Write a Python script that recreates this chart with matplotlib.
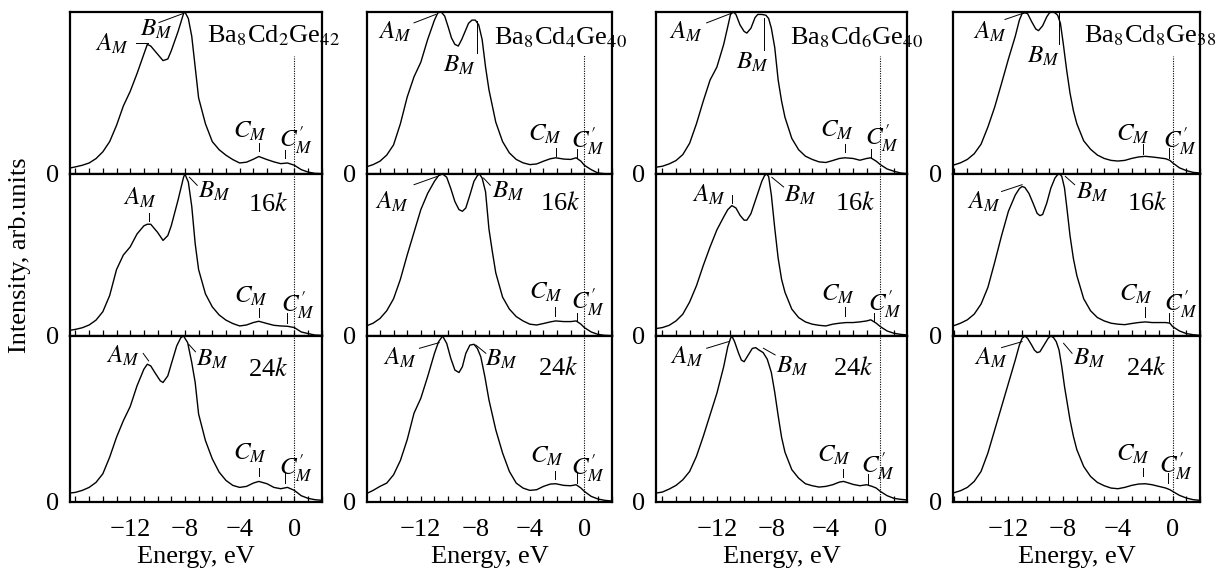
import matplotlib
matplotlib.use('Agg')
import matplotlib.pyplot as plt
from matplotlib.ticker import FixedLocator, MultipleLocator

plt.rcParams['font.family'] = ['Liberation Serif', 'DejaVu Serif']
plt.rcParams['mathtext.fontset'] = 'stix'

# ---------------- data (energy in eV, intensity normalised) ----------------
titles = [r'Ba$_8$Cd$_2$Ge$_{42}$', r'Ba$_8$Cd$_4$Ge$_{40}$',
          r'Ba$_8$Cd$_6$Ge$_{40}$', r'Ba$_8$Cd$_8$Ge$_{38}$']
kmesh = ['', r'16$k$', r'24$k$']
xticks_major = [-12, -8, -4, 0]

E_c1r1 = [-16.4, -16, -15.5, -15, -14.5, -14, -13.5, -13, -12.5, -12, -11.5, -11, -10.75, -10.5, -10, -9.6, -9.25, -9, -8.5, -8.1,
          -8, -7.75, -7.5, -7.25, -7, -6.5, -6, -5.5, -5, -4.5, -4, -3.5, -3, -2.6, -2, -1.5, -1, -0.5, 0, 0.5, 1, 1.5, 2]
I_c1r1 = [0.037, 0.044, 0.054, 0.068, 0.095, 0.137, 0.20, 0.30, 0.42, 0.51, 0.62, 0.74, 0.80, 0.79, 0.74, 0.70, 0.71, 0.76, 0.88, 0.99,
          1.0, 0.96, 0.85, 0.66, 0.47, 0.31, 0.20, 0.15, 0.116, 0.089, 0.068, 0.073, 0.091, 0.108, 0.089, 0.075, 0.064, 0.068, 0.054, 0.027,
          0.012, 0.004, 0.002]
E_c1r2 = E_c1r1
I_c1r2 = [0.035, 0.041, 0.051, 0.068, 0.098, 0.15, 0.25, 0.41, 0.50, 0.55, 0.63, 0.68, 0.69, 0.69, 0.64, 0.59, 0.62, 0.68, 0.84, 0.98,
          1.0, 0.95, 0.80, 0.57, 0.41, 0.26, 0.18, 0.13, 0.098, 0.077, 0.062, 0.068, 0.083, 0.091, 0.077, 0.066, 0.062, 0.060, 0.052, 0.025,
          0.015, 0.006, 0.004]
E_c1r3 = [-16.4, -16, -15.5, -15, -14.5, -14, -13.5, -13, -12.5, -12, -11.5, -11, -10.75, -10.5, -10.2, -9.8, -9.6, -9.25, -9, -8.6,
          -8.3, -8.1, -7.8, -7.5, -7.25, -7, -6.5, -6, -5.5, -5, -4.5, -4, -3.5, -3, -2.6, -2, -1.5, -1, -0.5, 0, 0.5, 1, 1.5, 2]
I_c1r3 = [0.054, 0.058, 0.07, 0.088, 0.118, 0.17, 0.27, 0.39, 0.49, 0.575, 0.70, 0.80, 0.83, 0.82, 0.78, 0.73, 0.72, 0.76, 0.83, 0.94,
          0.99, 1.0, 0.96, 0.84, 0.72, 0.53, 0.37, 0.26, 0.18, 0.13, 0.10, 0.088, 0.094, 0.114, 0.124, 0.11, 0.088, 0.080, 0.088, 0.07,
          0.038, 0.022, 0.014, 0.01]

E_c2r1 = [-16, -15.5, -15, -14.5, -14, -13.5, -13, -12.5, -12, -11.5, -11, -10.75, -10.5, -10.25, -10, -9.75, -9.5, -9.25, -9, -8.75,
          -8.5, -8.25, -8, -7.75, -7.5, -7.25, -7, -6.5, -6, -5.5, -5, -4.5, -4, -3.5, -3, -2.5, -2.1, -1.5, -1, -0.6, -0.25, 0, 0.5, 1, 1.5, 2]
I_c2r1 = [0.044, 0.058, 0.079, 0.117, 0.18, 0.31, 0.475, 0.60, 0.69, 0.83, 0.95, 0.995, 1.0, 0.975, 0.91, 0.84, 0.80, 0.79, 0.83, 0.88,
          0.93, 0.95, 0.95, 0.92, 0.83, 0.66, 0.52, 0.32, 0.20, 0.13, 0.09, 0.069, 0.058, 0.062, 0.079, 0.094, 0.10, 0.092, 0.09, 0.10,
          0.079, 0.054, 0.027, 0.006, 0.002, 0.0]
E_c2r2 = [-16, -15.5, -15, -14.5, -14, -13.5, -13, -12.5, -12, -11.5, -11, -10.7, -10.4, -10.1, -9.8, -9.5, -9.2, -8.95, -8.7, -8.4,
          -8.1, -7.85, -7.7, -7.5, -7.25, -7, -6.75, -6.5, -6, -5.5, -5, -4.5, -4, -3.5, -3, -2.5, -2.1, -1.5, -1, -0.6, -0.25, 0, 0.5, 1, 1.5, 2]
I_c2r2 = [0.062, 0.079, 0.108, 0.156, 0.23, 0.35, 0.50, 0.64, 0.78, 0.88, 0.955, 0.99, 1.0, 0.98, 0.91, 0.83, 0.78, 0.77, 0.79, 0.87,
          0.955, 0.99, 1.0, 0.975, 0.89, 0.66, 0.52, 0.39, 0.24, 0.166, 0.12, 0.093, 0.073, 0.068, 0.077, 0.087, 0.093, 0.089, 0.089, 0.093,
          0.073, 0.052, 0.025, 0.01, 0.004, 0.002]
E_c2r3 = [-16, -15.5, -15, -14.5, -14, -13.5, -13, -12.5, -12, -11.5, -11, -10.7, -10.4, -10.1, -9.8, -9.5, -9.2, -8.95, -8.7, -8.4,
          -8.1, -7.85, -7.6, -7.3, -7, -6.5, -6, -5.5, -5, -4.5, -4, -3.5, -3, -2.5, -2.1, -1.5, -1, -0.6, -0.25, 0, 0.5, 1, 1.5, 2]
I_c2r3 = [0.05, 0.07, 0.094, 0.114, 0.164, 0.25, 0.375, 0.535, 0.625, 0.755, 0.895, 0.965, 1.0, 0.955, 0.865, 0.795, 0.78, 0.815, 0.895, 0.945,
          0.95, 0.925, 0.875, 0.755, 0.615, 0.435, 0.295, 0.184, 0.114, 0.084, 0.07, 0.074, 0.094, 0.108, 0.11, 0.10, 0.098, 0.104, 0.084, 0.064,
          0.034, 0.018, 0.01, 0.006]

E_c3r1 = [-16.45, -16, -15.5, -15, -14.5, -14, -13.5, -13, -12.5, -12, -11.5, -11.2, -11, -10.8, -10.6, -10.3, -10, -9.8, -9.5, -9.2,
          -9, -8.7, -8.4, -8.2, -8, -7.75, -7.5, -7.25, -7, -6.5, -6, -5.5, -5, -4.5, -4, -3.5, -3, -2.6, -2, -1.5,
          -1, -0.7, -0.3, 0, 0.5, 1, 1.5, 2]
I_c3r1 = [0.042, 0.048, 0.0625, 0.083, 0.12, 0.19, 0.31, 0.45, 0.58, 0.66, 0.80, 0.91, 0.985, 1.0, 0.985, 0.92, 0.88, 0.87, 0.90, 0.965,
          0.985, 0.985, 0.98, 0.96, 0.90, 0.78, 0.58, 0.45, 0.35, 0.22, 0.15, 0.11, 0.09, 0.075, 0.071, 0.083, 0.096, 0.10, 0.096, 0.085,
          0.096, 0.10, 0.079, 0.058, 0.031, 0.017, 0.006, 0.002]
E_c3r2 = [-16.45, -16, -15.5, -15, -14.5, -14, -13.5, -13, -12.5, -12, -11.5, -11.2, -10.9, -10.6, -10.3, -10, -9.8, -9.5, -9.2, -9,
          -8.7, -8.5, -8.35, -8.2, -8, -7.75, -7.5, -7.25, -7, -6.5, -6, -5.5, -5, -4.5, -4, -3.5, -3, -2.5, -2, -1.5,
          -1, -0.7, -0.3, 0, 0.5, 1, 1.5, 2]
I_c3r2 = [0.046, 0.052, 0.066, 0.093, 0.135, 0.21, 0.31, 0.435, 0.55, 0.655, 0.735, 0.78, 0.805, 0.79, 0.745, 0.715, 0.715, 0.755, 0.83, 0.88,
          0.955, 0.99, 1.0, 0.985, 0.87, 0.665, 0.48, 0.35, 0.27, 0.166, 0.114, 0.087, 0.073, 0.066, 0.062, 0.073, 0.079, 0.083, 0.083, 0.087,
          0.093, 0.10, 0.079, 0.058, 0.031, 0.017, 0.01, 0.006]
E_c3r3 = [-16.45, -16, -15.5, -15, -14.5, -14, -13.5, -13, -12.5, -12, -11.5, -11.2, -11, -10.9, -10.7, -10.4, -10.2, -10, -9.7, -9.4,
          -9.15, -8.9, -8.6, -8.3, -8, -7.75, -7.5, -7.25, -7, -6.5, -6, -5.5, -5, -4.5, -4, -3.5, -3, -2.7, -2.3, -2,
          -1.5, -1, -0.6, -0.3, 0, 0.5, 1, 1.5, 2]
I_c3r3 = [0.054, 0.06, 0.078, 0.10, 0.134, 0.184, 0.275, 0.395, 0.525, 0.655, 0.815, 0.935, 0.985, 1.0, 0.966, 0.895, 0.855, 0.845, 0.885, 0.925,
          0.93, 0.915, 0.90, 0.86, 0.78, 0.66, 0.52, 0.39, 0.30, 0.195, 0.144, 0.11, 0.098, 0.09, 0.094, 0.104, 0.12, 0.124, 0.114, 0.106,
          0.098, 0.104, 0.094, 0.084, 0.064, 0.038, 0.022, 0.016, 0.012]

E_c4r1 = [-16.05, -15.5, -15, -14.5, -14, -13.5, -13, -12.5, -12, -11.5, -11.2, -11, -10.8, -10.6, -10.3, -10, -9.8, -9.5, -9.2, -9,
          -8.8, -8.6, -8.4, -8.2, -8, -7.75, -7.5, -7.25, -7, -6.5, -6, -5.5, -5, -4.5, -4, -3.5, -3, -2.5, -2, -1.5,
          -1, -0.5, -0.2, 0, 0.5, 1, 1.5, 2]
I_c4r1 = [0.054, 0.069, 0.09, 0.125, 0.184, 0.29, 0.414, 0.56, 0.71, 0.85, 0.95, 0.99, 0.995, 0.99, 0.94, 0.895, 0.885, 0.915, 0.97, 0.995,
          1.0, 0.995, 0.98, 0.93, 0.81, 0.645, 0.50, 0.39, 0.31, 0.205, 0.153, 0.117, 0.096, 0.084, 0.08, 0.084, 0.096, 0.105, 0.109, 0.105,
          0.10, 0.094, 0.084, 0.069, 0.038, 0.021, 0.01, 0.006]
E_c4r2 = [-16.05, -15.5, -15, -14.5, -14, -13.5, -13, -12.5, -12, -11.5, -11.2, -11, -10.8, -10.5, -10.2, -9.9, -9.7, -9.5, -9.2, -8.9,
          -8.6, -8.4, -8.25, -8.1, -7.9, -7.7, -7.5, -7.25, -7, -6.5, -6, -5.5, -5, -4.5, -4, -3.5, -3, -2.5, -2, -1.5,
          -1, -0.5, -0.2, 0, 0.5, 1, 1.5, 2]
I_c4r2 = [0.062, 0.079, 0.10, 0.135, 0.197, 0.30, 0.456, 0.62, 0.77, 0.87, 0.91, 0.923, 0.917, 0.88, 0.82, 0.757, 0.743, 0.75, 0.82, 0.913,
          0.975, 0.996, 1.0, 0.985, 0.913, 0.77, 0.62, 0.477, 0.373, 0.23, 0.156, 0.114, 0.093, 0.079, 0.073, 0.07, 0.077, 0.083, 0.087, 0.083,
          0.083, 0.083, 0.079, 0.058, 0.031, 0.015, 0.008, 0.004]
E_c4r3 = [-16.05, -15.5, -15, -14.5, -14, -13.5, -13, -12.5, -12, -11.5, -11.2, -11, -10.8, -10.6, -10.3, -10.1, -9.9, -9.7, -9.4, -9.1,
          -8.9, -8.7, -8.5, -8.3, -8.1, -7.9, -7.7, -7.5, -7.25, -7, -6.5, -6, -5.5, -5, -4.5, -4, -3.5, -3, -2.5, -2,
          -1.5, -1, -0.5, -0.2, 0, 0.5, 1, 1.5, 2]
I_c4r3 = [0.054, 0.068, 0.088, 0.124, 0.184, 0.295, 0.435, 0.575, 0.715, 0.855, 0.945, 0.986, 1.0, 0.986, 0.945, 0.915, 0.90, 0.905, 0.945, 0.986,
          1.0, 0.99, 0.965, 0.915, 0.815, 0.695, 0.595, 0.495, 0.395, 0.315, 0.214, 0.154, 0.118, 0.098, 0.084, 0.08, 0.088, 0.10, 0.108, 0.11,
          0.104, 0.094, 0.084, 0.074, 0.064, 0.04, 0.024, 0.014, 0.01]

curves = [[(E_c1r1, I_c1r1), (E_c2r1, I_c2r1), (E_c3r1, I_c3r1), (E_c4r1, I_c4r1)],
          [(E_c1r2, I_c1r2), (E_c2r2, I_c2r2), (E_c3r2, I_c3r2), (E_c4r2, I_c4r2)],
          [(E_c1r3, I_c1r3), (E_c2r3, I_c2r3), (E_c3r3, I_c3r3), (E_c4r3, I_c4r3)]]

# ---------------- layout (pixels of a 1220x569 canvas) ----------------
W, H = 1220, 569
col_px = [(70, 322), (367, 612), (656, 907), (953, 1200)]
row_px = [(12, 174), (174, 336), (336, 502)]
xlims = [(-16.4, 2.02), (-15.95, 2.03), (-16.47, 1.96), (-16.05, 2.0)]

# annotation layout: label centres, leader segments (x0, y0, x1, y1)
ann = {
    (0, 0): dict(A=(-13.3, 0.805), Al=(-11.6, 0.81, -10.7, 0.81), B=(-10.1, 0.89), Bl=(-9.9, 0.935, -8.15, 0.99),
                 C=(-3.26, 0.265), Cl=(-2.56, 0.193, -2.56, 0.141), Cp=(0.15, 0.207), Cpl=(-0.71, 0.151, -0.71, 0.10),
                 T=(-6.38, 0.815), dot=0.73),
    (1, 0): dict(A=(-11.3, 0.85), Al=(-10.6, 0.76, -10.6, 0.71), B=(-5.85, 0.89), Bl=(-7.67, 0.98, -7.1, 0.93),
                 K=(-1.9, 0.81), C=(-3.2, 0.243), Cl=(-2.56, 0.17, -2.56, 0.118), Cp=(0.25, 0.19), Cpl=(-0.54, 0.139, -0.54, 0.081)),
    (2, 0): dict(A=(-12.5, 0.88), Al=(-11.05, 0.895, -10.65, 0.85), B=(-6.0, 0.86), Bl=(-7.72, 0.95, -7.23, 0.905),
                 K=(-1.9, 0.80), C=(-3.26, 0.295), Cl=(-2.56, 0.204, -2.56, 0.154), Cp=(0.12, 0.204), Cpl=(-0.71, 0.174, -0.71, 0.114)),
    (0, 1): dict(A=(-13.9, 0.88), Al=(-12.5, 0.933, -10.9, 0.985), B=(-9.2, 0.67), Bl=(-7.9, 0.944, -7.9, 0.746),
                 C=(-2.9, 0.246), Cl=(-2.08, 0.1625, -2.08, 0.11), Cp=(0.3, 0.204), Cpl=(-0.56, 0.152, -0.56, 0.10),
                 T=(-6.6, 0.80), dot=0.735),
    (1, 1): dict(A=(-14.1, 0.83), Al=(-12.5, 0.934, -10.8, 0.985), B=(-5.6, 0.89), Bl=(-7.4, 0.975, -6.9, 0.93),
                 K=(-1.76, 0.82), C=(-2.8, 0.27), Cl=(-2.16, 0.176, -2.16, 0.124), Cp=(0.25, 0.207), Cpl=(-0.56, 0.145, -0.56, 0.093)),
    (2, 1): dict(A=(-13.5, 0.866), Al=(-12.1, 0.926, -10.65, 0.96), B=(-6.1, 0.86), Bl=(-7.97, 0.946, -7.23, 0.896),
                 K=(-1.9, 0.805), C=(-2.77, 0.275), Cl=(-2.13, 0.184, -2.13, 0.138), Cp=(0.25, 0.204), Cpl=(-0.56, 0.174, -0.56, 0.114)),
    (0, 2): dict(A=(-14.3, 0.88), Al=(-12.75, 0.933, -11.0, 0.99), B=(-9.4, 0.69), Bl=(-8.53, 0.965, -8.53, 0.767),
                 C=(-3.2, 0.267), Cl=(-2.57, 0.1875, -2.57, 0.1375), Cp=(0.12, 0.22), Cpl=(-0.69, 0.152, -0.69, 0.10),
                 T=(-6.6, 0.80), dot=0.73),
    (1, 2): dict(A=(-12.6, 0.87), Al=(-10.9, 0.87, -10.9, 0.82), B=(-5.9, 0.87), Bl=(-7.97, 0.98, -7.1, 0.92),
                 K=(-1.84, 0.82), C=(-3.14, 0.26), Cl=(-2.57, 0.176, -2.57, 0.124), Cp=(0.37, 0.197), Cpl=(-0.49, 0.145, -0.49, 0.093)),
    (2, 2): dict(A=(-14.2, 0.876), Al=(-12.75, 0.926, -11.15, 0.966), B=(-6.45, 0.82), Bl=(-8.58, 0.926, -7.72, 0.886),
                 K=(-2.0, 0.805), C=(-3.4, 0.28), Cl=(-2.75, 0.198, -2.75, 0.15), Cp=(-0.2, 0.218), Cpl=(-0.93, 0.17, -0.93, 0.11)),
    (0, 3): dict(A=(-13.36, 0.875), Al=(-12.25, 0.954, -10.8, 0.996), B=(-9.44, 0.724), Bl=(-8.28, 0.996, -8.28, 0.80),
                 C=(-2.9, 0.247), Cl=(-2.2, 0.184, -2.2, 0.121), Cp=(0.54, 0.205), Cpl=(-0.29, 0.163, -0.29, 0.10),
                 T=(-6.5, 0.81), dot=0.73),
    (1, 3): dict(A=(-13.8, 0.83), Al=(-12.5, 0.892, -11.0, 0.934), B=(-5.83, 0.888), Bl=(-7.84, 0.985, -7.16, 0.934),
                 K=(-1.84, 0.82), C=(-2.65, 0.26), Cl=(-2.03, 0.176, -2.03, 0.12), Cp=(0.61, 0.197), Cpl=(-0.29, 0.145, -0.29, 0.087)),
    (2, 3): dict(A=(-13.3, 0.866), Al=(-12.5, 0.93, -11.0, 0.966), B=(-6.1, 0.866), Bl=(-7.97, 0.956, -7.35, 0.896),
                 K=(-1.96, 0.805), C=(-2.9, 0.285), Cl=(-2.2, 0.204, -2.2, 0.154), Cp=(0.25, 0.214), Cpl=(-0.32, 0.174, -0.32, 0.114)),
}

LFS = 18   # peak label size
TFS = 19   # titles / tick labels

fig = plt.figure(figsize=(W / 100, H / 100), dpi=100)

for r in range(3):
    for c in range(4):
        x0, x1 = col_px[c]
        y0, y1 = row_px[r]
        ax = fig.add_axes([x0 / W, 1 - y1 / H, (x1 - x0) / W, (y1 - y0) / H])
        E, I = curves[r][c]
        ax.plot(E, I, color='black', lw=1.0, solid_joinstyle='round')
        ax.set_xlim(*xlims[c])
        ax.set_ylim(0, 1.0)
        for s in ax.spines.values():
            s.set_linewidth(1.6)
        ax.xaxis.set_major_locator(FixedLocator(xticks_major))
        ax.xaxis.set_minor_locator(MultipleLocator(1))
        ax.tick_params(axis='x', which='both', direction='in', length=4, width=0.9,
                       top=False, labelsize=TFS, pad=12)
        ax.set_yticks([0])
        ax.set_yticklabels(['0'])
        ax.tick_params(axis='y', length=0, labelsize=TFS, pad=8)
        if r < 2:
            ax.tick_params(axis='x', labelbottom=False)
        else:
            ax.set_xlabel('Energy, eV', fontsize=TFS, labelpad=4)

        a = ann[(r, c)]
        dtop = a.get('dot', 1.0)
        ax.plot([0, 0], [0, dtop], color='black', lw=0.8, ls=(0, (1, 1.2)))

        def seg(p):
            ax.plot([p[0], p[2]], [p[1], p[3]], color='black', lw=0.7, clip_on=False)

        ax.text(*a['A'], r'$A_M$', fontsize=LFS, ha='center', va='center')
        seg(a['Al'])
        ax.text(*a['B'], r'$B_M$', fontsize=LFS, ha='center', va='center')
        seg(a['Bl'])
        ax.text(*a['C'], r'$C_M$', fontsize=LFS, ha='center', va='center')
        seg(a['Cl'])
        ax.text(*a['Cp'], r"$C^{\prime}_M$", fontsize=LFS, ha='center', va='center')
        seg(a['Cpl'])
        if 'T' in a:
            ax.text(a['T'][0], a['T'][1], titles[c], fontsize=TFS, ha='left', va='baseline')
        if 'K' in a:
            ax.text(*a['K'], kmesh[r], fontsize=TFS, ha='center', va='center')

fig.text(20 / W, 1 - 255 / H, 'Intensity, arb.units', rotation=90, fontsize=TFS,
         ha='center', va='center')

fig.savefig('out.png', dpi=100)
